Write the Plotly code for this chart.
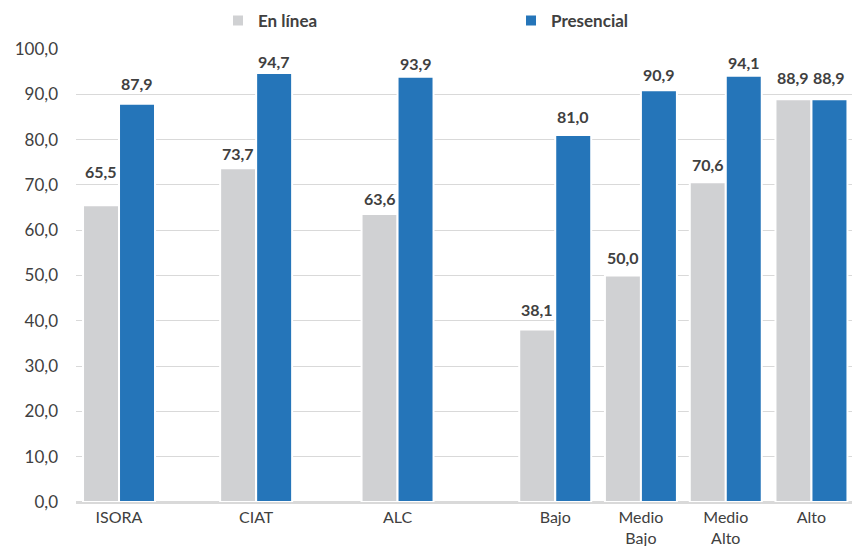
import plotly.graph_objects as go

# Categories and series values (percent)
categories = ["ISORA", "CIAT", "ALC", "Bajo", "Medio<br>Bajo", "Medio<br>Alto", "Alto"]
en_linea = [65.5, 73.7, 63.6, 38.1, 50.0, 70.6, 88.9]
presencial = [87.9, 94.7, 93.9, 81.0, 90.9, 94.1, 88.9]
y_ticks = [0, 10, 20, 30, 40, 50, 60, 70, 80, 90, 100]

# Layout: category slot positions along the x axis (first block, then income levels)
slot_pos = [0, 1.6, 3.25, 5.09, 6.09, 7.08, 8.08]
bar_w = 0.42
# Vertical gap (px) between each value label and its bar top
lift_online = [27, 8, 9, 13, 12, 11, 15]
lift_pres = [14, 5, 7, 12, 9, 7, 15]

GREY = "#D0D1D3"
BLUE = "#2575B9"
TEXT = "#404040"
FONT = "Lato"

fig = go.Figure()
fig.add_trace(go.Bar(
    x=slot_pos, y=en_linea, name="En línea",
    width=bar_w, offset=-bar_w,
    marker=dict(color=GREY, line=dict(color="white", width=2)),
))
fig.add_trace(go.Bar(
    x=slot_pos, y=presencial, name="Presencial",
    width=bar_w, offset=0,
    marker=dict(color=BLUE, line=dict(color="white", width=2)),
))

label_font = dict(family=FONT, size=16, color=TEXT, weight="bold")
annotations = []
for p, v, s in zip(slot_pos, en_linea, lift_online):
    annotations.append(dict(x=p - bar_w / 2, y=v, text=f"{v:.1f}".replace(".", ","),
                            showarrow=False, yanchor="bottom", yshift=s - 5,
                            font=label_font))
for p, v, s in zip(slot_pos, presencial, lift_pres):
    annotations.append(dict(x=p + bar_w / 2, y=v, text=f"{v:.1f}".replace(".", ","),
                            showarrow=False, yanchor="bottom", yshift=s - 5,
                            font=label_font))

fig.update_layout(
    width=852, height=546,
    margin=dict(l=76, r=0, t=49, b=44),
    paper_bgcolor="white", plot_bgcolor="white",
    separators=",.",
    barmode="overlay",
    font=dict(family=FONT, color=TEXT),
    showlegend=True,
    legend=dict(
        orientation="h", x=0.183, xanchor="left", y=1.062, yanchor="middle",
        entrywidth=248, entrywidthmode="pixels", itemwidth=30,
        font=dict(family=FONT, size=17, color=TEXT, weight="bold"),
        traceorder="normal",
    ),
    annotations=annotations,
    xaxis=dict(
        range=[-0.502, 8.553], tickvals=slot_pos, ticktext=categories,
        showgrid=False, zeroline=False, showline=False, ticks="",
        ticklabelstandoff=4, automargin=False,
        tickfont=dict(family=FONT, size=16, color=TEXT),
    ),
    yaxis=dict(
        range=[0, 100], tickvals=y_ticks, tickformat=".1f",
        showgrid=True, gridcolor="#D9D9D9", gridwidth=1.3,
        zeroline=True, zerolinecolor="#D9D9D9", zerolinewidth=2.5,
        showline=False, ticks="", ticklabelstandoff=17, automargin=False,
        tickfont=dict(family=FONT, size=17, color=TEXT),
    ),
)

fig.write_html("out.html")
